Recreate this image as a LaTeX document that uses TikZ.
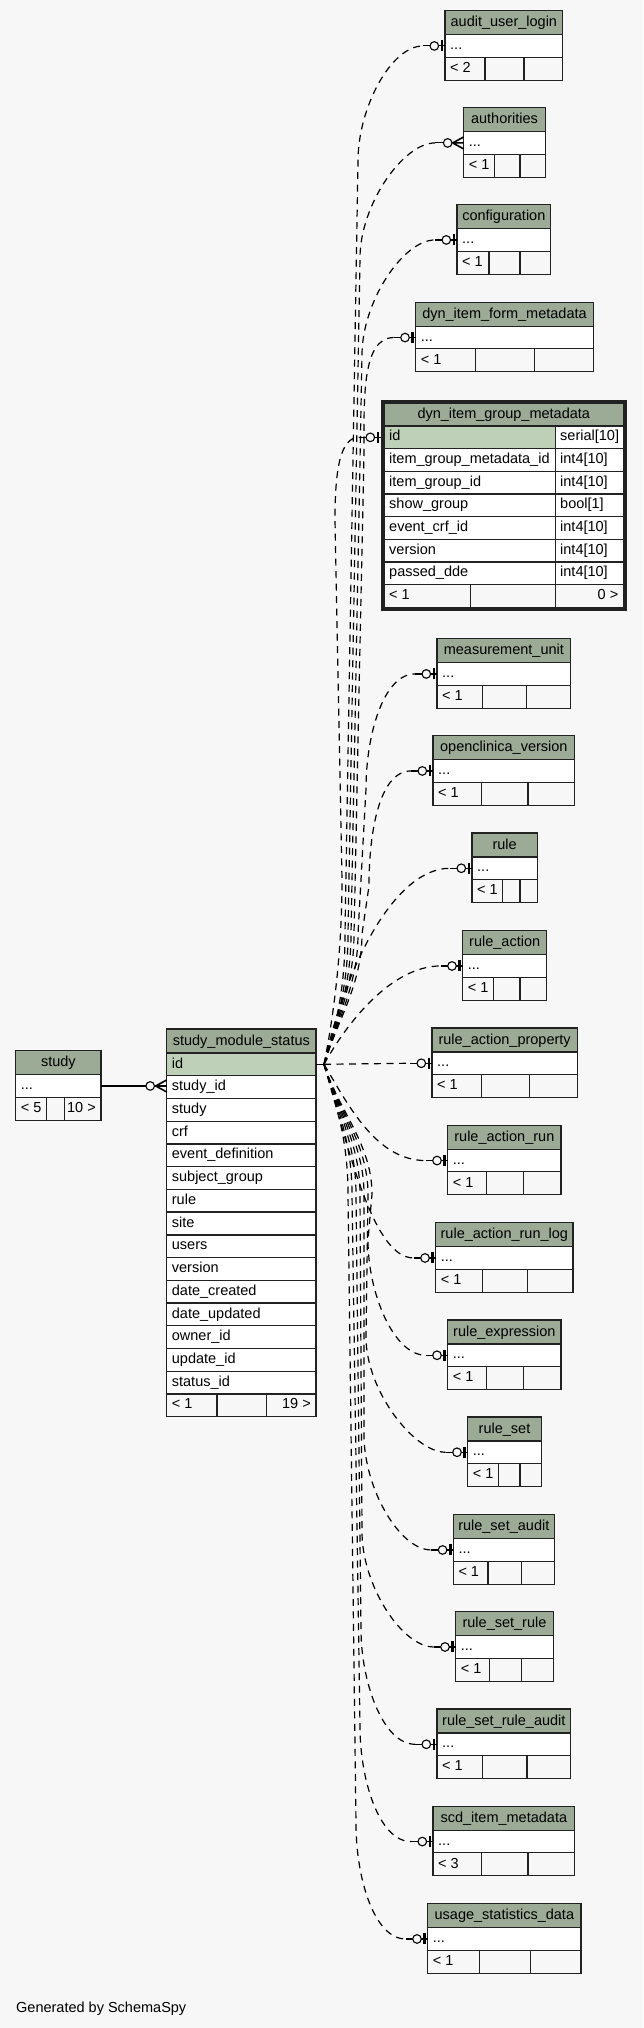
\documentclass[tikz,border=0pt]{standalone}
\usepackage{fontspec}
\setmainfont{Liberation Sans}
\usetikzlibrary{calc}
\definecolor{bgc}{HTML}{F7F7F7}
\definecolor{hdrc}{HTML}{9BAB96}
\definecolor{pkc}{HTML}{BED1B8}
\definecolor{bordc}{HTML}{222222}
\tikzset{
  cellb/.style={draw=bordc, line width=1.3pt},
  txt/.style={inner sep=0pt, font=\fontsize{14.5}{17}\selectfont, text=black},
  conn/.style={draw=black, line width=1.2pt, dash pattern=on 7pt off 5.5pt},
  stub/.style={draw=black, line width=1.1pt},
}
\newcommand\smtbl[9]{%
  \pgfmathsetmacro\tbH{#5+24}%
  \pgfmathsetmacro\tbR{#5+46.5}%
  \pgfmathsetmacro\tbB{#5+69.5}%
  \pgfmathsetmacro\tbM{(#3+#4)/2}%
  \pgfmathsetmacro\tbY{#5+35.25}%
  \filldraw[cellb, fill=hdrc] (#3,#5) rectangle (#4,\tbH);
  \filldraw[cellb, fill=white] (#3,\tbH) rectangle (#4,\tbR);
  \filldraw[cellb, fill=bgc] (#3,\tbR) rectangle (#4,\tbB);
  \draw[cellb] (#6,\tbR) -- (#6,\tbB) (#7,\tbR) -- (#7,\tbB);
  \node[txt, anchor=base] (#1-h) at (\tbM,\tbH-8) {#2};
  \node[txt, anchor=base west] (#1-r) at (#3+5,\tbR-7.7) {...};
  \node[txt, anchor=base west] (#1-fl) at (#3+5,\tbB-7.7) {#8};
  \node[txt, anchor=base east] (#1-fr) at (#4-5,\tbB-7.7) {#9};
  \coordinate (#1) at (#3,\tbY);
  \coordinate (#1-e) at (#3-22,\tbY);
}
\newcommand\zeroone[1]{%
  \draw[stub] (#1-e) -- (#1);
  \filldraw[stub, fill=bgc] ($(#1)+(-10.7,0)$) circle (4.3pt);
  \draw[line width=2.6pt] ($(#1)+(-3,-5.5)$) -- ($(#1)+(-3,5.5)$);
}
\newcommand\zeromany[1]{%
  \draw[stub] (#1-e) -- (#1);
  \filldraw[stub, fill=bgc] ($(#1)+(-16,0)$) circle (4.3pt);
  \draw[line width=1.6pt] ($(#1)+(-11,0)$) -- ($(#1)+(0,-6)$)
     ($(#1)+(-11,0)$) -- (#1) ($(#1)+(-11,0)$) -- ($(#1)+(0,6)$);
}
% #1 target, #2 x near source, #3 x near target, #4 target row y
\newcommand\upc[4]{%
  \draw[conn] (src) .. controls +(14,-45) and (#2,984) .. (#2,934) -- (#3,#4+115)
     .. controls (#3,#4+62) and ($(#1-e)+(-32,0)$) .. (#1-e);}
\newcommand\downc[4]{%
  \draw[conn] (src) .. controls +(14,45) and (#2,1144) .. (#2,1194) -- (#3,#4-115)
     .. controls (#3,#4-62) and ($(#1-e)+(-32,0)$) .. (#1-e);}
\newcommand\shortc[4]{%
  \draw[conn] (src) .. controls +(#2,#3) and ($(#1-e)+(-#4,0)$) .. (#1-e);}
\begin{document}
\begin{tikzpicture}[x=1pt,y=-1pt]
\path[use as bounding box, fill=bgc] (0,0) rectangle (643,2028);

% small tables
\smtbl{aul}{audit\_user\_login}{445}{562.7}{10.7}{485}{524}{< 2}{}
\smtbl{auth}{authorities}{463.7}{545.3}{107.7}{494.3}{520}{< 1}{}
\smtbl{conf}{configuration}{457}{550.7}{204.7}{489}{520}{< 1}{}
\smtbl{dif}{dyn\_item\_form\_metadata}{415.7}{593.3}{302.3}{475.7}{534.7}{< 1}{}
\smtbl{mu}{measurement\_unit}{437}{570.7}{638.7}{482.3}{526.7}{< 1}{}
\smtbl{ocv}{openclinica\_version}{433}{574.7}{735.7}{481.3}{528}{< 1}{}
\smtbl{rule}{rule}{472}{537.3}{833}{502.7}{520}{< 1}{}
\smtbl{ra}{rule\_action}{462.7}{546.7}{930.7}{493.3}{520}{< 1}{}
\smtbl{rap}{rule\_action\_property}{432}{577.3}{1028}{481.3}{529.3}{< 1}{}
\smtbl{rar}{rule\_action\_run}{447.7}{561}{1125.3}{486.3}{523.7}{< 1}{}
\smtbl{rarl}{rule\_action\_run\_log}{435.7}{573}{1222.7}{482.3}{527.7}{< 1}{}
\smtbl{rex}{rule\_expression}{447.7}{561}{1320}{486.3}{523.7}{< 1}{}
\smtbl{rs}{rule\_set}{467.7}{541.3}{1417}{498.7}{520}{< 1}{}
\smtbl{rsa}{rule\_set\_audit}{453.3}{554.3}{1514.7}{488}{521.3}{< 1}{}
\smtbl{rsr}{rule\_set\_rule}{455.7}{553.3}{1611.7}{489.3}{521.3}{< 1}{}
\smtbl{rsra}{rule\_set\_rule\_audit}{437}{570.7}{1709}{482.7}{527}{< 1}{}
\smtbl{scd}{scd\_item\_metadata}{433}{574.7}{1806.3}{481.3}{528}{< 3}{}
\smtbl{usd}{usage\_statistics\_data}{427.7}{581}{1903.7}{479.7}{530.3}{< 1}{}
\smtbl{study}{study}{15.7}{101}{1050.7}{46.7}{64.3}{< 5}{10 >}
\coordinate (auth-e) at ($(auth)+(-28.7,0)$);

% study_module_status
\filldraw[cellb, fill=hdrc] (166.7,1029) rectangle (316,1053);
\node[txt, anchor=base] (sms-h) at (241.35,1045) {study\_module\_status};
\foreach \nm [count=\k from 0] in {id,study\_id,study,crf,event\_definition,subject\_group,rule,site,users,version,date\_created,date\_updated,owner\_id,update\_id,status\_id}{
  \pgfmathsetmacro\yt{1053+22.73*\k}
  \pgfmathsetmacro\yb{\yt+22.73}
  \ifnum\k=0 \def\fc{pkc}\else\def\fc{white}\fi
  \filldraw[cellb, fill=\fc] (166.7,\yt) rectangle (316,\yb);
  \node[txt, anchor=base west] (sms-\k) at (171.7,\yb-7.7) {\nm};
}
\filldraw[cellb, fill=bgc] (166.7,1394) rectangle (316,1416.5);
\draw[cellb] (217,1394) -- (217,1416.5) (266.7,1394) -- (266.7,1416.5);
\node[txt, anchor=base west] (sms-fl) at (171.7,1408.8) {< 1};
\node[txt, anchor=base east] (sms-fr) at (311,1408.8) {19 >};

% dyn_item_group_metadata
\filldraw[cellb, fill=hdrc] (384,403) rectangle (623.5,426);
\node[txt, anchor=base] (dig-h) at (503.75,418) {dyn\_item\_group\_metadata};
\foreach \nm/\ty [count=\k from 0] in {id/serial[10],item\_group\_metadata\_id/int4[10],item\_group\_id/int4[10],show\_group/bool[1],event\_crf\_id/int4[10],version/int4[10],passed\_dde/int4[10]}{
  \pgfmathsetmacro\yt{426+22.67*\k}
  \pgfmathsetmacro\yb{\yt+22.67}
  \ifnum\k=0 \def\fc{pkc}\else\def\fc{white}\fi
  \filldraw[cellb, fill=\fc] (384,\yt) rectangle (555.7,\yb);
  \filldraw[cellb, fill=white] (555.7,\yt) rectangle (623.5,\yb);
  \node[txt, anchor=base west] (dig-n\k) at (389,\yb-7.7) {\nm};
  \node[txt, anchor=base west] (dig-t\k) at (560,\yb-7.7) {\ty};
}
\filldraw[cellb, fill=bgc] (384,584.7) rectangle (623.5,607.3);
\draw[cellb] (470.7,584.7) -- (470.7,607.3) (555.7,584.7) -- (555.7,607.3);
\node[txt, anchor=base west] (dig-fl) at (389,599.6) {< 1};
\node[txt, anchor=base east] (dig-fr) at (618.5,599.6) {0 >};
\draw[line width=3.3pt, draw=bordc] (382.5,401.7) rectangle (625,609);
\coordinate (dig) at (381,437.35);
\coordinate (dig-e) at (359,437.35);

% source point
\coordinate (sms-out) at (316,1064.3);
\coordinate (src) at (324,1064.3);
\draw[stub] (sms-out) -- (src);

% connectors
\upc{aul}{345}{358}{45.95}
\upc{auth}{348}{360}{142.95}
\upc{conf}{351}{362}{239.95}
\upc{dif}{354}{364}{337.55}
\draw[conn] (src) .. controls +(10,-50) and (342,950) .. (342,880) -- (335,520)
   .. controls (335,470) and (340,437.35) .. (dig-e);
\upc{mu}{358}{366}{673.95}
\upc{ocv}{362}{369}{770.95}
\shortc{rule}{22}{-100}{55}
\shortc{ra}{22}{-40}{50}
\draw[conn] (src) -- (rap-e);
\shortc{rar}{24}{40}{50}
\shortc{rarl}{26}{90}{40}
\downc{rex}{372}{368}{1355.25}
\downc{rs}{368}{366}{1452.25}
\downc{rsa}{364}{364}{1549.95}
\downc{rsr}{360}{362}{1646.95}
\downc{rsra}{356}{361}{1744.25}
\downc{scd}{352}{360}{1841.55}
\downc{usd}{348}{356}{1938.95}

% ends
\zeroone{aul}
\zeromany{auth}
\zeroone{conf}
\zeroone{dif}
\zeroone{dig}
\zeroone{mu}
\zeroone{ocv}
\zeroone{rule}
\zeroone{ra}
\zeroone{rap}
\zeroone{rar}
\zeroone{rarl}
\zeroone{rex}
\zeroone{rs}
\zeroone{rsa}
\zeroone{rsr}
\zeroone{rsra}
\zeroone{scd}
\zeroone{usd}

% study -> study_module_status
\coordinate (study-out) at (101,1085.95);
\coordinate (sms-sid) at (166.7,1085.95);
\draw[stub] (study-out) -- (sms-sid);
\filldraw[stub, fill=bgc] ($(sms-sid)+(-16.5,0)$) circle (4.3pt);
\draw[line width=1.6pt] ($(sms-sid)+(-11,0)$) -- ($(sms-sid)+(0,-6)$)
   ($(sms-sid)+(-11,0)$) -- (sms-sid) ($(sms-sid)+(-11,0)$) -- ($(sms-sid)+(0,6)$);

\node[txt, anchor=base west] (gen) at (16,2012.5) {Generated by SchemaSpy};
\end{tikzpicture}
\end{document}
